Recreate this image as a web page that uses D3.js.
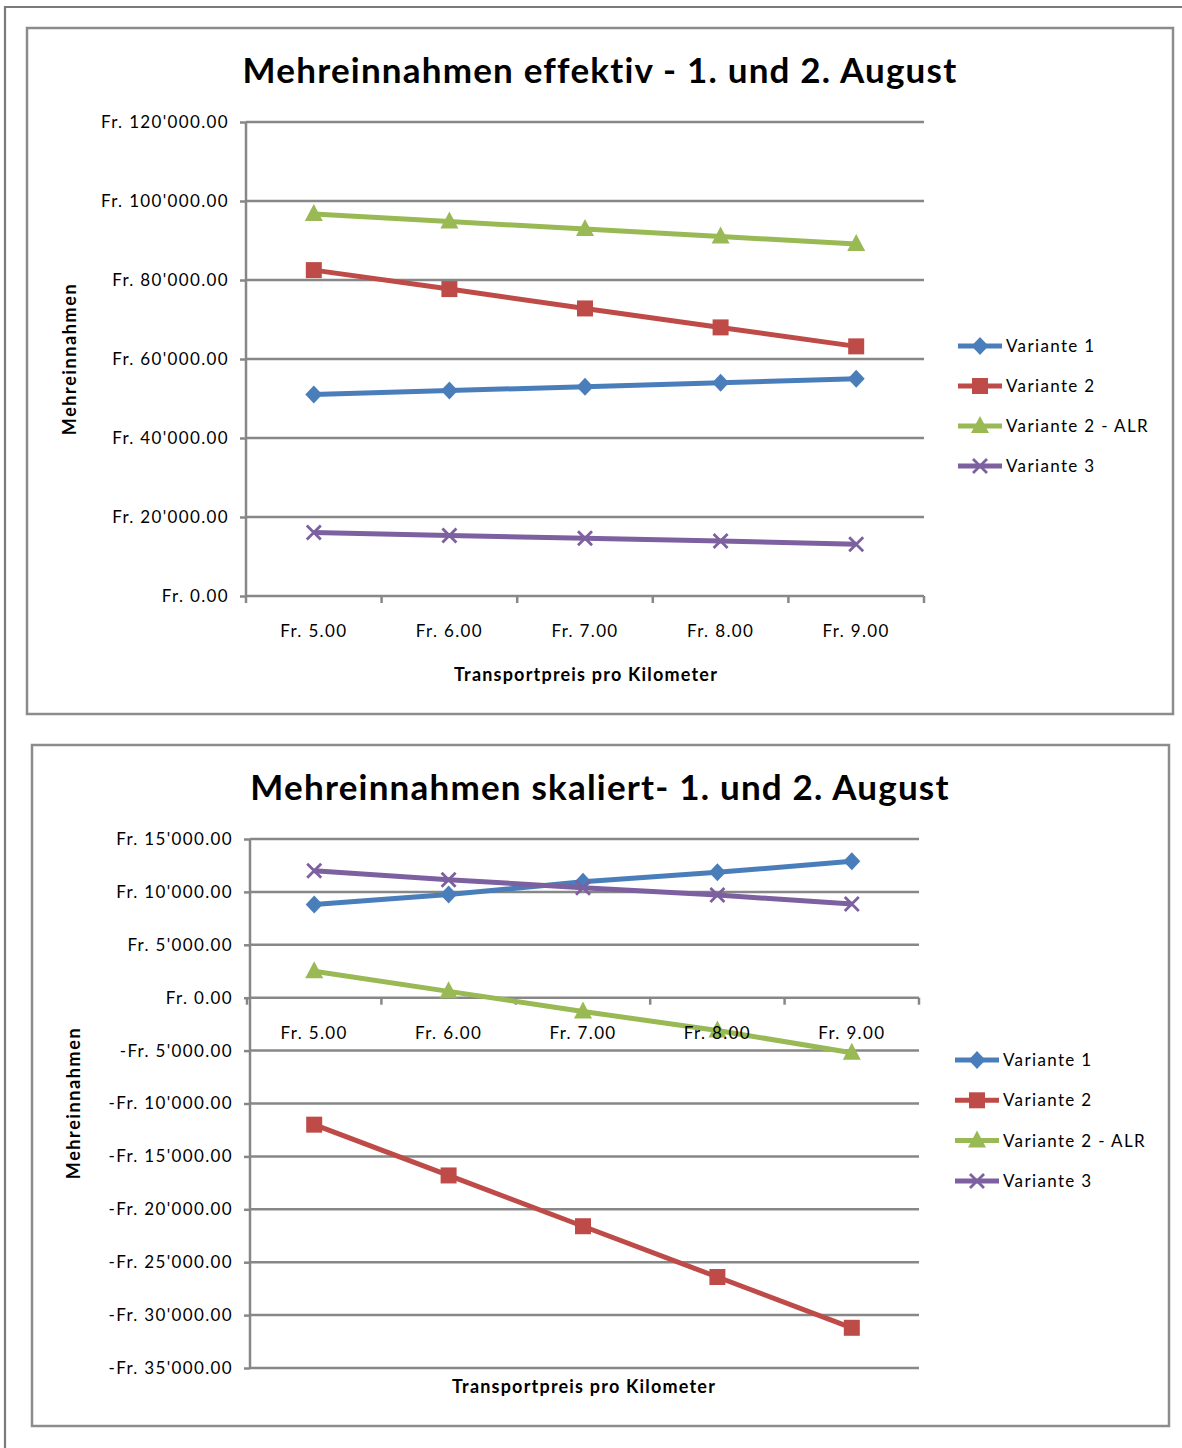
<!DOCTYPE html>
<html>
<head>
<meta charset="utf-8">
<script src="https://cdn.jsdelivr.net/npm/d3@7"></script>
<style>
  html, body { margin: 0; padding: 0; background: #fff; }
  svg { display: block; font-family: Lato, "Open Sans", sans-serif; }
</style>
</head>
<body>
<svg id="page" width="1182" height="1448"></svg>
<script>
// Transport price per kilometre (categories shared by both charts)
const categories = ["Fr. 5.00", "Fr. 6.00", "Fr. 7.00", "Fr. 8.00", "Fr. 9.00"];
const seriesNames = ["Variante 1", "Variante 2", "Variante 2 - ALR", "Variante 3"];

// Effective additional revenue, 1st and 2nd August
const effektivVariante1 = [51000, 52000, 53000, 54000, 55000];
const effektivVariante2 = [82500, 77700, 72800, 68000, 63200];
const effektivVariante2ALR = [96700, 94800, 92900, 91000, 89100];
const effektivVariante3 = [16100, 15300, 14600, 13900, 13100];
const effektivTicks = [0, 20000, 40000, 60000, 80000, 100000, 120000];

// Scaled additional revenue, 1st and 2nd August
const skaliertVariante1 = [8800, 9750, 10950, 11850, 12900];
const skaliertVariante2 = [-12000, -16800, -21600, -26400, -31200];
const skaliertVariante2ALR = [2500, 600, -1300, -3100, -5200];
const skaliertVariante3 = [12000, 11150, 10400, 9700, 8850];
const skaliertTicks = [-35000, -30000, -25000, -20000, -15000, -10000, -5000, 0, 5000, 10000, 15000];

const colors = ["#4a7ebb", "#be4b48", "#98b954", "#7d60a0"];
const markerKinds = ["diamond", "square", "triangle", "cross"];
const gridColor = "#878787";
const frameColor = "#8c8c8c";
const labelSpacing = 1.35;

const svg = d3.select("#page");

function fmtFr(v) {
  const s = d3.format(",.2f")(Math.abs(v)).replace(/,/g, "'");
  return (v < 0 ? "-" : "") + "Fr. " + s;
}

function drawMarker(g, kind, x, y, color) {
  if (kind === "diamond") {
    g.append("path").attr("d", `M${x},${y - 9}L${x + 8.5},${y}L${x},${y + 9}L${x - 8.5},${y}Z`).attr("fill", color);
  } else if (kind === "square") {
    g.append("rect").attr("x", x - 8).attr("y", y - 8).attr("width", 16).attr("height", 16).attr("fill", color);
  } else if (kind === "triangle") {
    g.append("path").attr("d", `M${x},${y - 10}L${x + 9},${y + 7}L${x - 9},${y + 7}Z`).attr("fill", color);
  } else {
    g.append("path").attr("d", `M${x - 7},${y - 7}L${x + 7},${y + 7}M${x + 7},${y - 7}L${x - 7},${y + 7}`)
      .attr("stroke", color).attr("stroke-width", 2.8).attr("fill", "none");
  }
}

function drawChart(cfg) {
  const g = svg.append("g");

  // chart area frame
  g.append("rect").attr("x", cfg.frame[0]).attr("y", cfg.frame[1])
    .attr("width", cfg.frame[2] - cfg.frame[0]).attr("height", cfg.frame[3] - cfg.frame[1])
    .attr("fill", "#fff").attr("stroke", frameColor).attr("stroke-width", 2.5);

  const x = d3.scaleBand().domain(categories).range(cfg.catRange).padding(0);
  const y = d3.scaleLinear().domain(cfg.domain).range([cfg.plot.bottom, cfg.plot.top]);
  const cx = d => x(d) + x.bandwidth() / 2;

  // title
  g.append("text").attr("x", cfg.titleX).attr("y", cfg.titleY)
    .attr("text-anchor", "middle").attr("font-size", 35).attr("font-weight", 700)
    .attr("letter-spacing", 1.2).attr("fill", "#000").text(cfg.title);

  // horizontal gridlines (the zero line is the category axis)
  g.append("g").selectAll("line").data(cfg.ticks.filter(t => t !== 0)).join("line")
    .attr("x1", cfg.plot.left).attr("x2", cfg.plot.right)
    .attr("y1", d => y(d)).attr("y2", d => y(d))
    .attr("stroke", gridColor).attr("stroke-width", 2.5);

  // value axis
  const yAxis = g.append("g").attr("transform", `translate(${cfg.plot.left},0)`)
    .call(d3.axisLeft(y).tickValues(cfg.ticks).tickFormat(fmtFr).tickSize(6).tickPadding(11));
  yAxis.select(".domain").attr("stroke", gridColor).attr("stroke-width", 2.5)
    .attr("d", `M0,${cfg.plot.bottom}V${cfg.plot.top}`);
  yAxis.selectAll(".tick line").attr("stroke", gridColor).attr("stroke-width", 2.5);
  yAxis.selectAll(".tick text").attr("font-size", 17).attr("fill", "#000")
    .attr("letter-spacing", labelSpacing)
    .attr("font-family", "Lato, 'Open Sans', sans-serif");

  // category axis at zero, tick marks on band edges
  const y0 = y(0);
  g.append("line").attr("x1", cfg.plot.left).attr("x2", cfg.plot.right)
    .attr("y1", y0).attr("y2", y0).attr("stroke", gridColor).attr("stroke-width", 2.5);
  const edges = categories.map(c => x(c)).concat([cfg.catRange[1]]);
  g.append("g").selectAll("line").data(edges).join("line")
    .attr("x1", d => d).attr("x2", d => d).attr("y1", y0).attr("y2", y0 + 7)
    .attr("stroke", gridColor).attr("stroke-width", 2.5);

  // axis titles
  g.append("text").attr("x", cfg.xTitle[0]).attr("y", cfg.xTitle[1])
    .attr("text-anchor", "middle").attr("font-size", 18).attr("font-weight", 700)
    .attr("letter-spacing", 1.2).text("Transportpreis pro Kilometer");
  g.append("text").attr("transform", `translate(${cfg.yTitle[0]},${cfg.yTitle[1]}) rotate(-90)`)
    .attr("text-anchor", "middle").attr("font-size", 18).attr("font-weight", 700)
    .attr("letter-spacing", 1.6).text("Mehreinnahmen");

  // series lines and markers
  const line = d3.line().x((d, i) => cx(categories[i])).y(d => y(d));
  cfg.series.forEach((vals, si) => {
    g.append("path").datum(vals).attr("d", line).attr("fill", "none")
      .attr("stroke", colors[si]).attr("stroke-width", 5).attr("stroke-linejoin", "round");
  });
  cfg.series.forEach((vals, si) => {
    const mg = g.append("g");
    vals.forEach((v, i) => drawMarker(mg, markerKinds[si], cx(categories[i]), y(v), colors[si]));
  });

  // category labels sit above the plotted series
  g.append("g").selectAll("text").data(categories).join("text")
    .attr("x", d => cx(d)).attr("y", y0 + 41)
    .attr("text-anchor", "middle").attr("font-size", 17).attr("letter-spacing", labelSpacing)
    .attr("fill", "#000").text(d => d);

  // legend
  const lg = g.append("g");
  seriesNames.forEach((name, si) => {
    const ly = cfg.legend[1] + si * cfg.legendStep;
    lg.append("line").attr("x1", cfg.legend[0]).attr("x2", cfg.legend[0] + 44)
      .attr("y1", ly).attr("y2", ly).attr("stroke", colors[si]).attr("stroke-width", 5);
    drawMarker(lg, markerKinds[si], cfg.legend[0] + 22, ly, colors[si]);
    lg.append("text").attr("x", cfg.legend[0] + 48).attr("y", ly + 6)
      .attr("font-size", 17).attr("letter-spacing", labelSpacing).attr("fill", "#000").text(name);
  });
}

// outer page frame
svg.append("path").attr("d", "M5,1448V7H1182").attr("fill", "none")
  .attr("stroke", "#7a7a7a").attr("stroke-width", 2.2);

drawChart({
  title: "Mehreinnahmen effektiv - 1. und 2. August",
  frame: [27, 28, 1173, 714],
  plot: { left: 246, right: 924, top: 122, bottom: 596 },
  catRange: [246, 924],
  domain: [0, 120000],
  ticks: effektivTicks,
  series: [effektivVariante1, effektivVariante2, effektivVariante2ALR, effektivVariante3],
  titleX: 600, titleY: 83,
  xTitle: [586, 681],
  yTitle: [76, 359],
  legend: [958, 346],
  legendStep: 40
});

drawChart({
  title: "Mehreinnahmen skaliert- 1. und 2. August",
  frame: [32, 745, 1169, 1426],
  plot: { left: 250, right: 919, top: 839, bottom: 1368 },
  catRange: [247, 919],
  domain: [-35000, 15000],
  ticks: skaliertTicks,
  series: [skaliertVariante1, skaliertVariante2, skaliertVariante2ALR, skaliertVariante3],
  titleX: 600, titleY: 800,
  xTitle: [584, 1393],
  yTitle: [80, 1103],
  legend: [955, 1060],
  legendStep: 40.3
});
</script>
</body>
</html>
